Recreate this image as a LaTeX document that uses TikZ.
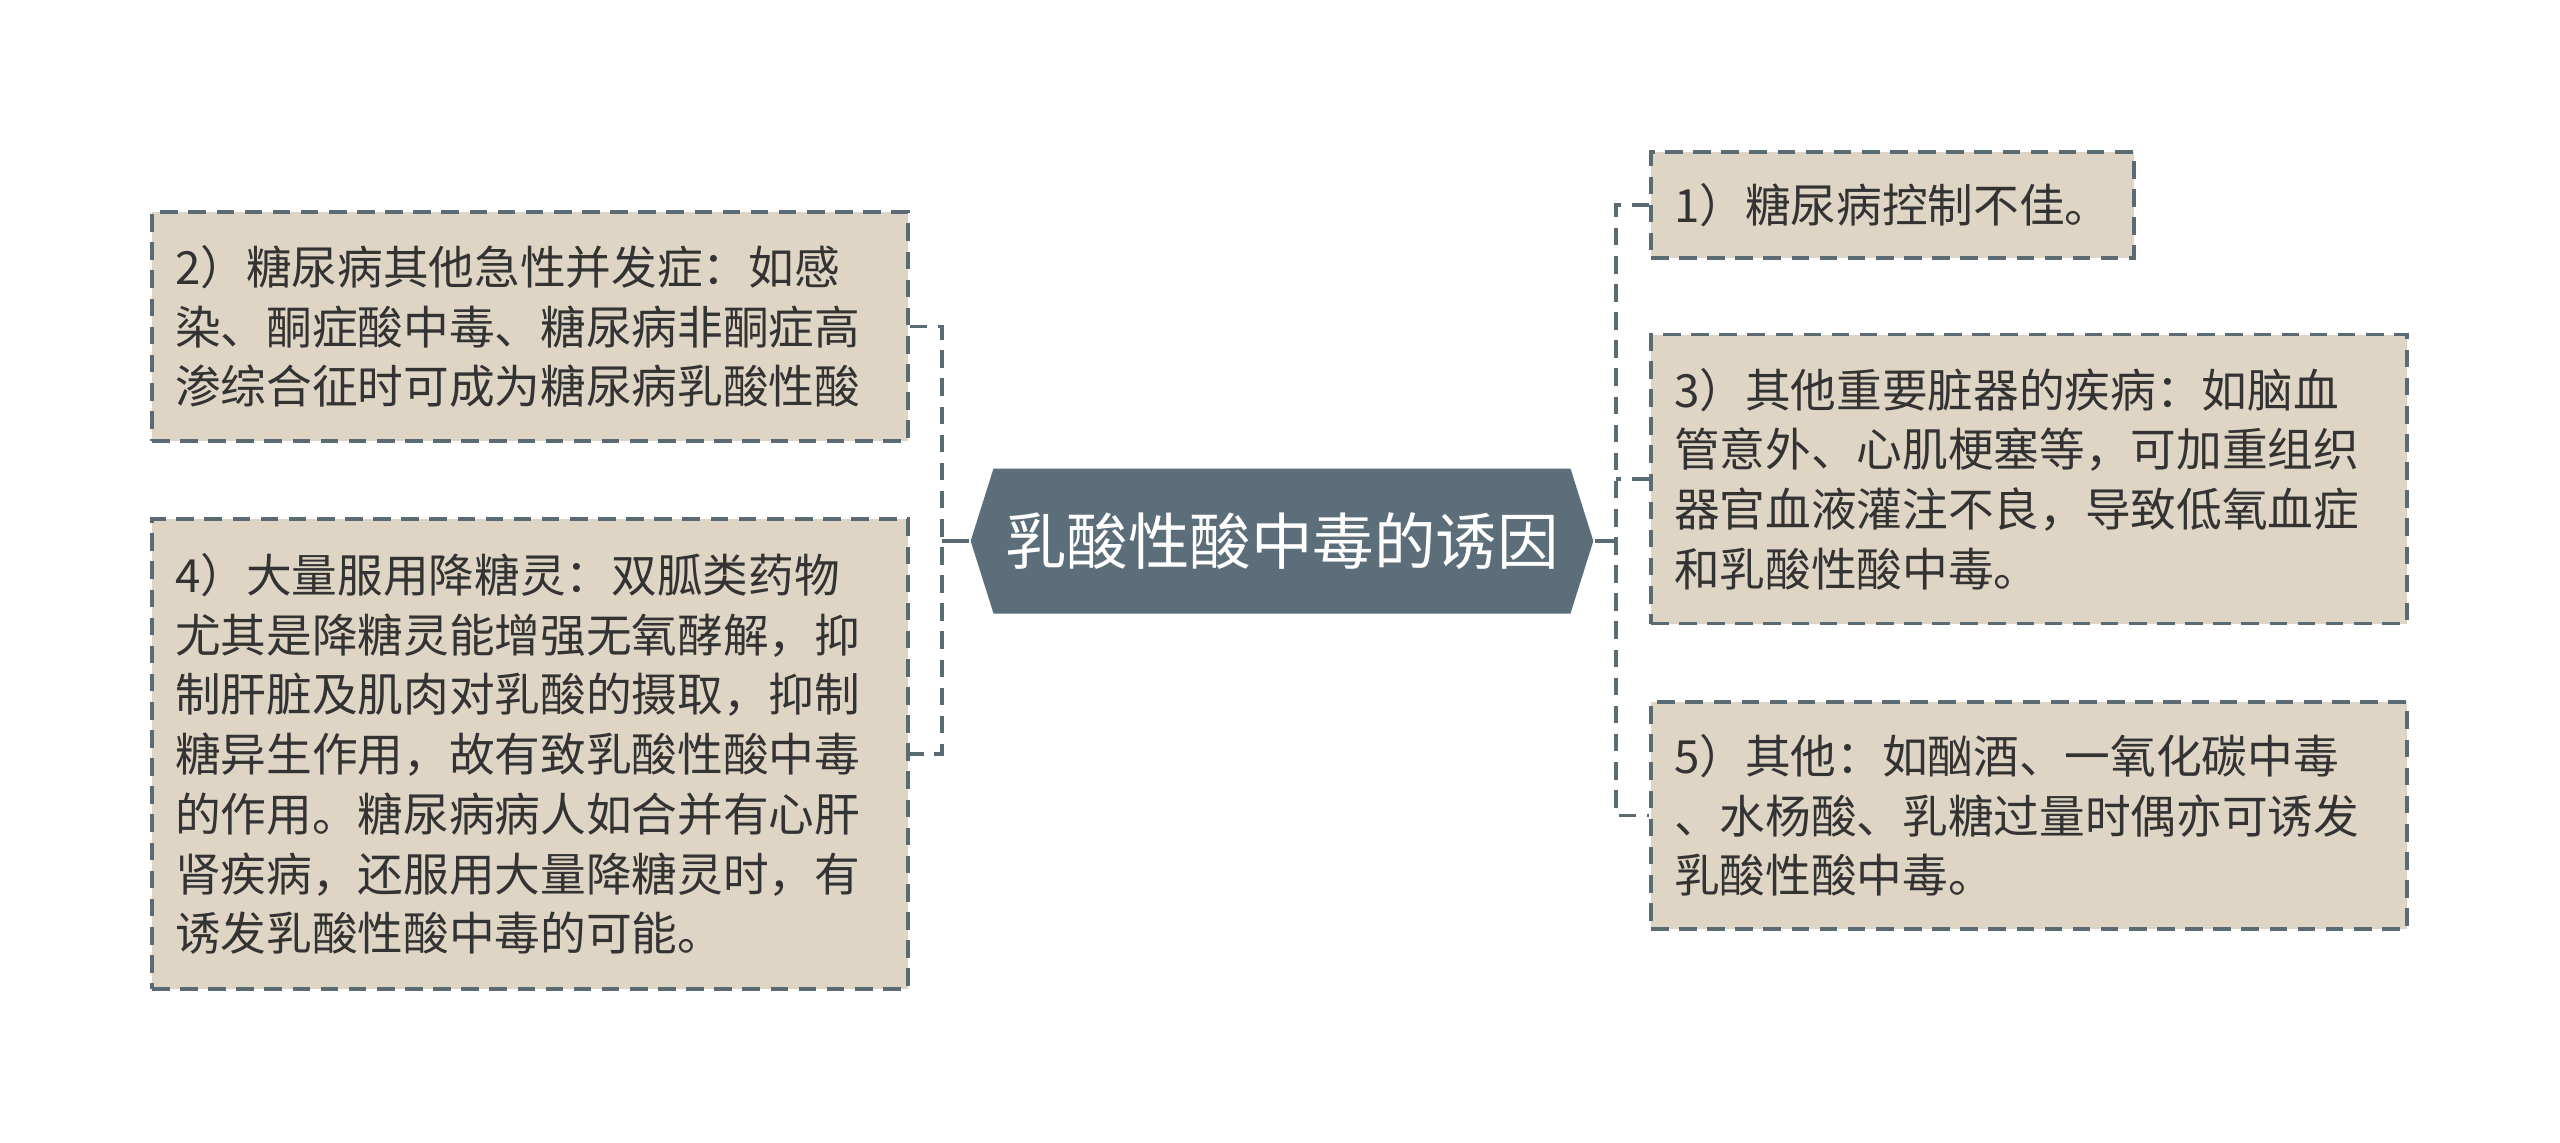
\documentclass[tikz,border=0pt]{standalone}
\usepackage{fontspec}
\setmainfont{Noto Sans CJK SC}
\usetikzlibrary{shapes.symbols,positioning}
\definecolor{slate}{HTML}{5C6E7A}
\definecolor{beige}{HTML}{DED5C5}
\definecolor{rim}{HTML}{5B6B74}
\definecolor{ink}{HTML}{333333}

\begin{document}
\begin{tikzpicture}[line width=0.9pt,
  leaf/.style={draw=rim,dash pattern=on 5pt off 3pt,fill=beige,text=ink,align=left,
    inner xsep=0.23cm,inner ysep=0pt,font=\fontsize{13pt}{17pt}\selectfont},
  root/.style={signal,signal to=east and west,signal pointer angle=145,fill=slate,
    text=white,minimum width=5.98cm,minimum height=1.45cm,font=\fontsize{17.5pt}{21pt}\selectfont},
  link/.style={draw=rim,dash pattern=on 5pt off 3pt},
  stem/.style={draw=rim,line width=1pt}]
   \useasboundingbox (0,0) rectangle (25.6,-11.43);
   \node [root] (C_0) at (12.82,-5.41) {乳酸性酸中毒的诱因};
   \node [leaf,text width=7.10cm,minimum height=2.29cm] (C_2) at (5.30,-3.265)
     {2）糖尿病其他急性并发症：如感\\染、酮症酸中毒、糖尿病非酮症高\\渗综合征时可成为糖尿病乳酸性酸};
   \node [leaf,text width=7.10cm,minimum height=4.70cm] (C_4) at (5.30,-7.54)
     {4）大量服用降糖灵：双胍类药物\\尤其是降糖灵能增强无氧酵解，抑\\制肝脏及肌肉对乳酸的摄取，抑制\\糖异生作用，故有致乳酸性酸中毒\\的作用。糖尿病病人如合并有心肝\\肾疾病，还服用大量降糖灵时，有\\诱发乳酸性酸中毒的可能。};
   \node [leaf,text width=4.37cm,minimum height=1.06cm] (C_1) at (18.925,-2.05)
     {1）糖尿病控制不佳。};
   \node [leaf,text width=7.10cm,minimum height=2.89cm] (C_3) at (20.29,-4.79)
     {3）其他重要脏器的疾病：如脑血\\管意外、心肌梗塞等，可加重组织\\器官血液灌注不良，导致低氧血症\\和乳酸性酸中毒。};
   \node [leaf,text width=7.10cm,minimum height=2.27cm] (C_5) at (20.29,-8.155)
     {5）其他：如酗酒、一氧化碳中毒\\、水杨酸、乳糖过量时偶亦可诱发\\乳酸性酸中毒。};
   \coordinate (L) at (9.42,-5.41);
   \coordinate (R) at (16.16,-5.41);
   \draw [stem] (C_0.west) -- (L);
   \draw [stem] (C_0.east) -- (R);
   \draw [link] (C_2.east) -| (L) |- (C_4.east);
   \draw [link] (C_1.west) -| (R) |- (C_5.west);
   \draw [link] (C_3.west) -- (C_3.west -| R);
\end{tikzpicture}
\end{document}
